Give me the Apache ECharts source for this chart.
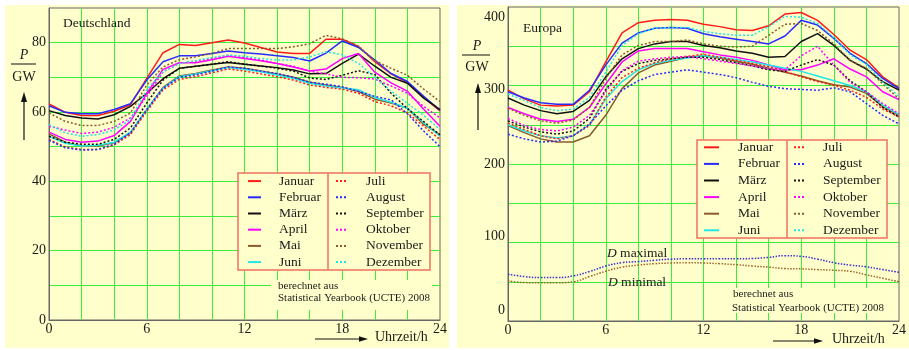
<!DOCTYPE html>
<html><head><meta charset="utf-8">
<script src="https://cdn.jsdelivr.net/npm/echarts@6/dist/echarts.min.js"></script>
<style>html,body{margin:0;padding:0;background:#fff}#c{width:909px;height:350px}</style>
</head><body><div id="c"></div><script>
const hours = [0,1,2,3,4,5,6,7,8,9,10,11,12,13,14,15,16,17,18,19,20,21,22,23,24];
const months = ['Januar','Februar','März','April','Mai','Juni','Juli','August','September','Oktober','November','Dezember'];
const xTickLabels = [0,6,12,18,24];
const yTickLabelsDE = [0,20,40,60,80];
const yTickLabelsEU = [0,100,200,300,400];

// Deutschland, GW
const deJan = [62.3,59.9,59.0,59.0,60.2,62.1,69.7,77.1,79.5,79.2,80.0,80.8,79.9,78.6,77.3,76.9,76.9,81.0,81.0,78.9,74.5,71.0,68.5,64.2,60.3];
const deFeb = [61.8,59.9,59.5,59.5,60.7,62.4,69.2,74.5,76.2,76.2,76.9,77.6,77.1,76.7,76.2,75.7,74.7,77.0,80.5,78.6,75.0,71.1,68.8,64.5,60.5];
const deMar = [60.4,59.0,58.3,58.0,59.2,61.6,65.4,69.6,72.6,73.2,73.8,74.3,73.8,73.3,72.8,72.1,71.0,71.1,74.0,76.7,73.2,70.0,68.3,64.0,60.7];
const deApr = [54.2,52.1,51.3,51.6,53.2,57.3,65.4,72.3,74.2,74.2,75.1,76.1,75.4,74.8,74.0,73.0,71.8,72.4,75.4,76.9,71.5,68.4,66.0,60.8,55.9];
const deMai = [53.7,51.3,50.2,50.2,51.1,54.0,60.7,67.1,70.4,71.1,72.1,73.0,72.6,71.8,71.0,70.0,68.6,67.8,67.1,65.9,63.7,62.6,61.1,56.4,53.5];
const deJun = [53.0,51.0,50.2,50.4,51.3,54.2,60.7,66.9,70.2,71.0,71.9,72.8,72.3,71.6,70.7,69.7,68.3,67.5,66.9,66.4,64.2,62.8,61.1,56.9,53.0];
const deJul = [52.1,49.9,49.2,49.2,50.5,53.5,60.2,66.4,69.4,70.2,71.3,72.4,71.8,71.0,70.2,69.2,67.8,67.1,66.6,65.4,63.0,61.8,59.7,55.9,52.1];
const deAug = [51.8,49.7,49.0,49.2,50.7,54.0,60.7,66.9,70.0,70.7,71.8,73.0,72.6,71.8,71.1,70.0,68.6,68.0,67.3,65.9,64.5,63.5,59.5,54.5,50.0];
const deSep = [53.0,51.3,50.7,50.7,52.1,55.4,62.6,69.2,72.6,73.2,73.8,74.5,73.8,73.2,72.6,71.8,69.8,69.4,70.6,71.9,70.8,65.4,61.0,57.2,53.4];
const deOkt = [55.9,54.8,53.8,54.2,55.6,58.3,64.5,71.6,74.0,74.7,75.4,76.4,75.7,75.0,74.0,73.2,71.8,71.0,70.0,69.9,69.5,67.5,65.4,61.6,58.3];
const deNov = [59.7,57.3,56.1,56.1,57.3,59.7,67.8,73.0,75.1,75.9,76.9,78.3,78.3,78.3,78.3,78.8,79.7,82.1,81.1,79.0,74.8,72.6,70.6,66.6,63.0];
const deDez = [56.4,54.0,53.0,53.5,54.8,57.8,66.4,71.6,74.0,74.8,75.7,76.4,76.1,75.4,75.0,75.0,75.9,77.4,76.5,74.0,70.0,66.0,62.5,59.0,55.0];

// Europa, GW
const euJan = [294,283,275,274,275,292,330,367,380,383,384,383,378,375,371,370,376,391,393,383,365,345,333,311,297];
const euFeb = [292,284,278,276,276,294,326,354,367,373,374,373,366,362,359,356,353,363,383,377,360,341,328,309,296];
const euMar = [284,275,268,264,267,281,311,334,347,353,356,356,351,348,344,341,336,337,356,366,351,332,321,305,294];
const euApr = [272,264,257,254,257,272,302,330,344,347,347,347,343,339,336,332,326,320,320,326,334,321,311,292,282];
const euMai = [249,240,232,228,228,236,262,296,316,326,331,336,338,335,331,327,322,317,312,306,301,298,290,273,262];
const euJun = [250,242,236,233,236,250,283,305,320,328,332,335,338,336,333,330,326,322,318,312,306,300,292,275,263];
const euJul = [252,244,236,232,236,249,285,310,322,329,334,337,340,336,332,328,324,318,311,305,300,294,285,270,260];
const euAug = [238,232,228,229,236,251,274,294,306,314,317,320,317,314,310,304,299,296,295,294,297,292,277,262,251];
const euSep = [255,247,241,238,242,258,295,318,328,332,334,336,336,333,329,325,320,318,326,333,326,306,292,272,260];
const euOkt = [258,249,244,242,247,262,292,319,331,334,336,337,334,331,328,325,321,320,338,350,326,304,292,277,264];
const euNov = [271,262,255,252,256,272,309,339,351,356,356,358,353,350,349,350,364,378,379,370,353,332,322,302,283];
const euDez = [289,281,272,268,270,285,317,351,366,373,374,374,369,366,364,364,375,388,387,379,361,339,327,304,286];
const dMax = [59.7,56.6,55.3,55.3,57.5,63.0,70.0,74.3,75.7,77.4,78.8,79.2,79.2,79.2,79.2,79.6,81.0,83.2,82.3,78.8,74.3,71.2,69.0,65.5,62.0];
const dMin = [51.3,49.0,48.7,48.7,50.0,56.6,63.3,68.6,71.2,73.0,73.9,74.3,73.9,73.0,71.7,70.0,68.6,66.8,66.4,65.5,64.6,63.3,58.8,54.4,50.0];

const deData = [deJan,deFeb,deMar,deApr,deMai,deJun,deJul,deAug,deSep,deOkt,deNov,deDez];
const euData = [euJan,euFeb,euMar,euApr,euMai,euJun,euJul,euAug,euSep,euOkt,euNov,euDez];

const colors = ['#ff1a1a','#2a2aff','#111111','#ff00ff','#8b5a2b','#22e5e5','#ff1a1a','#2a2aff','#111111','#ff00ff','#8b5a2b','#22e5e5'];
const F = '"Liberation Serif","Times New Roman",serif';
const TXT = '#1a1a1a';
const GREEN = '#3cee3c';
const FRAME = '#666666';
const YEL = '#FFFFCC';

function mk(name, arr, i, ax) {
  return {name, type:'line', xAxisIndex:ax, yAxisIndex:ax, symbol:'none', animation:false, z:2,
    data: hours.map((h,k)=>[h, arr[k]]),
    lineStyle:{color:colors[i], width:1.5, type: i<6 ? 'solid' : [2,2]},
    itemStyle:{color:colors[i]}};
}
const series = [];
months.forEach((m,i)=>series.push(mk(m, deData[i], i, 0)));
months.forEach((m,i)=>series.push(mk(m, euData[i], i, 1)));
series.push({name:'D maximal', type:'line', xAxisIndex:1, yAxisIndex:1, symbol:'none', smooth:true, animation:false, z:2,
  data: hours.map((h,k)=>[h,dMax[k]]), lineStyle:{color:'#3a2ed0', width:1.5, type:[1.5,1.5]}});
series.push({name:'D minimal', type:'line', xAxisIndex:1, yAxisIndex:1, symbol:'none', smooth:true, animation:false, z:2,
  data: hours.map((h,k)=>[h,dMin[k]]), lineStyle:{color:'#a0602a', width:1.5, type:[1.5,1.5]}});

function xAx(gi) {
  return {gridIndex:gi, type:'value', min:0, max:24, interval:2,
    axisLine:{show:true, lineStyle:{color:FRAME, width:1}}, axisTick:{show:false},
    splitLine:{show:true, showMinLine:false, showMaxLine:false, lineStyle:{color:GREEN, width:1}},
    axisLabel:{formatter:v=>xTickLabels.includes(v)?String(v):'', fontFamily:F, fontSize:14, color:TXT, margin:2}};
}
function yAx(gi, max, iv, labs, fmt, rich) {
  return {gridIndex:gi, type:'value', min:0, max:max, interval:iv,
    axisLine:{show:true, lineStyle:{color:FRAME, width:1}}, axisTick:{show:false},
    splitLine:{show:true, showMinLine:false, showMaxLine:false, lineStyle:{color:GREEN, width:1}},
    axisLabel:{formatter: fmt || (v=>labs.includes(v)?String(v):''), rich: rich || {}, fontFamily:F, fontSize:14, color:TXT, margin:3}};
}
const euRich = {
  a0:{padding:[0,0,22,0], fontFamily:F, fontSize:14, color:TXT},
  a100:{padding:[0,0,12,0], fontFamily:F, fontSize:14, color:TXT},
  a200:{padding:[0,0,0,0], fontFamily:F, fontSize:14, color:TXT},
  a300:{padding:[8,0,0,0], fontFamily:F, fontSize:14, color:TXT},
  a400:{padding:[20,0,0,0], fontFamily:F, fontSize:14, color:TXT}
};
const euFmt = v => yTickLabelsEU.includes(v) ? '{a'+v+'|'+v+'}' : '';
function lg(data, left, top, iw, pad, lh) {
  return {show:true, orient:'vertical', left, top, padding:0, itemGap:0, itemWidth:iw, itemHeight:2,
    selectedMode:false, data, z:5, itemStyle:{opacity:0},
    textStyle:{fontFamily:F, fontSize:13.5, color:TXT, lineHeight:lh, padding:[0,0,0,pad]}};
}
function txt(x, y, text, size, align, extra) {
  return Object.assign({type:'text', x, y, z:6, style:{text, font: size+'px '+F, fill:TXT,
    align:align||'left', verticalAlign:'middle', textAlign:align||'left', textVerticalAlign:'middle'}}, extra||{});
}
function hArrow(x1, x2, y) {
  return [
    {type:'line', z:6, shape:{x1, y1:y, x2:x2-6, y2:y}, style:{stroke:'#111', lineWidth:1.2}},
    {type:'polygon', z:6, shape:{points:[[x2-9,y-2.8],[x2,y],[x2-9,y+2.8]]}, style:{fill:'#111'}}
  ];
}
function vArrow(x, y1, y2) {
  return [
    {type:'line', z:6, shape:{x1:x, y1:y1, x2:x, y2:y2+6}, style:{stroke:'#111', lineWidth:1.2}},
    {type:'polygon', z:6, shape:{points:[[x-3,y2+10],[x,y2],[x+3,y2+10]]}, style:{fill:'#111'}}
  ];
}
const graphics = [
  {type:'rect', z:-1, shape:{x:5, y:5, width:444, height:343}, style:{fill:YEL}},
  {type:'rect', z:-1, shape:{x:457, y:5, width:452, height:343}, style:{fill:YEL}},
  // legend boxes
  {type:'rect', z:3, shape:{x:238, y:173, width:192, height:97}, style:{fill:YEL, stroke:'#f07060', lineWidth:1.5}},
  {type:'line', z:3, shape:{x1:328, y1:173, x2:328, y2:270}, style:{stroke:'#f07060', lineWidth:1.5}},
  {type:'rect', z:3, shape:{x:697, y:140, width:190, height:98}, style:{fill:YEL, stroke:'#f07060', lineWidth:1.5}},
  {type:'line', z:3, shape:{x1:787, y1:140, x2:787, y2:238}, style:{stroke:'#f07060', lineWidth:1.5}},
  // masks behind source notes
  {type:'rect', z:3, shape:{x:271, y:280, width:161, height:30}, style:{fill:YEL}},
  {type:'rect', z:3, shape:{x:728, y:288, width:160, height:25}, style:{fill:YEL}},
  txt(63, 23, 'Deutschland', 13.5),
  txt(523, 28, 'Europa', 13.5),
  txt(278, 286, 'berechnet aus', 11),
  txt(278, 298, 'Statistical Yearbook (UCTE) 2008', 11),
  txt(733, 294, 'berechnet aus', 11),
  txt(732, 308, 'Statistical Yearbook (UCTE) 2008', 11),
  txt(375, 337, 'Uhrzeit/h', 14),
  txt(832, 339, 'Uhrzeit/h', 14),
  // P / GW labels
  {type:'text', x:24, y:55, z:6, style:{text:'P', font:'italic 14px '+F, fill:TXT, align:'center', verticalAlign:'middle', textAlign:'center', textVerticalAlign:'middle'}},
  {type:'line', z:6, shape:{x1:11, y1:64, x2:36, y2:64}, style:{stroke:'#111', lineWidth:1}},
  txt(24, 77, 'GW', 14, 'center'),
  {type:'text', x:477, y:46, z:6, style:{text:'P', font:'italic 14px '+F, fill:TXT, align:'center', verticalAlign:'middle', textAlign:'center', textVerticalAlign:'middle'}},
  {type:'line', z:6, shape:{x1:462, y1:55, x2:490, y2:55}, style:{stroke:'#111', lineWidth:1}},
  txt(477, 67.5, 'GW', 14, 'center'),
  {type:'text', x:607, y:253, z:6, style:{text:'{i|D} maximal', font:'13.5px '+F, fill:TXT, verticalAlign:'middle', textVerticalAlign:'middle',
    rich:{i:{fontStyle:'italic', fontSize:13.5, fontFamily:F, fill:TXT}}}},
  {type:'text', x:608, y:282, z:6, style:{text:'{i|D} minimal', font:'13.5px '+F, fill:TXT, verticalAlign:'middle', textVerticalAlign:'middle',
    rich:{i:{fontStyle:'italic', fontSize:13.5, fontFamily:F, fill:TXT}}}}
].concat(hArrow(315, 368, 339), hArrow(773, 823, 341), vArrow(24, 140, 92), vArrow(478, 130, 83));

const chart = echarts.init(document.getElementById('c'), null, {renderer:'canvas'});
chart.setOption({
  backgroundColor:'#ffffff',
  animation:false,
  grid:[
    {left:49, top:8, width:391, height:312, show:true, borderColor:FRAME, borderWidth:1, backgroundColor:'transparent'},
    {left:508, top:7, width:392, height:314, show:true, borderColor:FRAME, borderWidth:1, backgroundColor:'transparent'}
  ],
  xAxis:[xAx(0), xAx(1)],
  yAxis:[yAx(0, 90, 10, yTickLabelsDE), yAx(1, 400, 50, yTickLabelsEU, euFmt, euRich)],
  legend:[
    lg(months.slice(0,6), 247, 173, 13, 13, 16.2),
    lg(months.slice(6), 335, 173, 12, 13, 16.2),
    lg(months.slice(0,6), 703, 139, 15, 14, 16.6),
    lg(months.slice(6), 793, 139, 12, 12, 16.6)
  ],
  graphic:{elements:graphics},
  series
});
</script></body></html>
